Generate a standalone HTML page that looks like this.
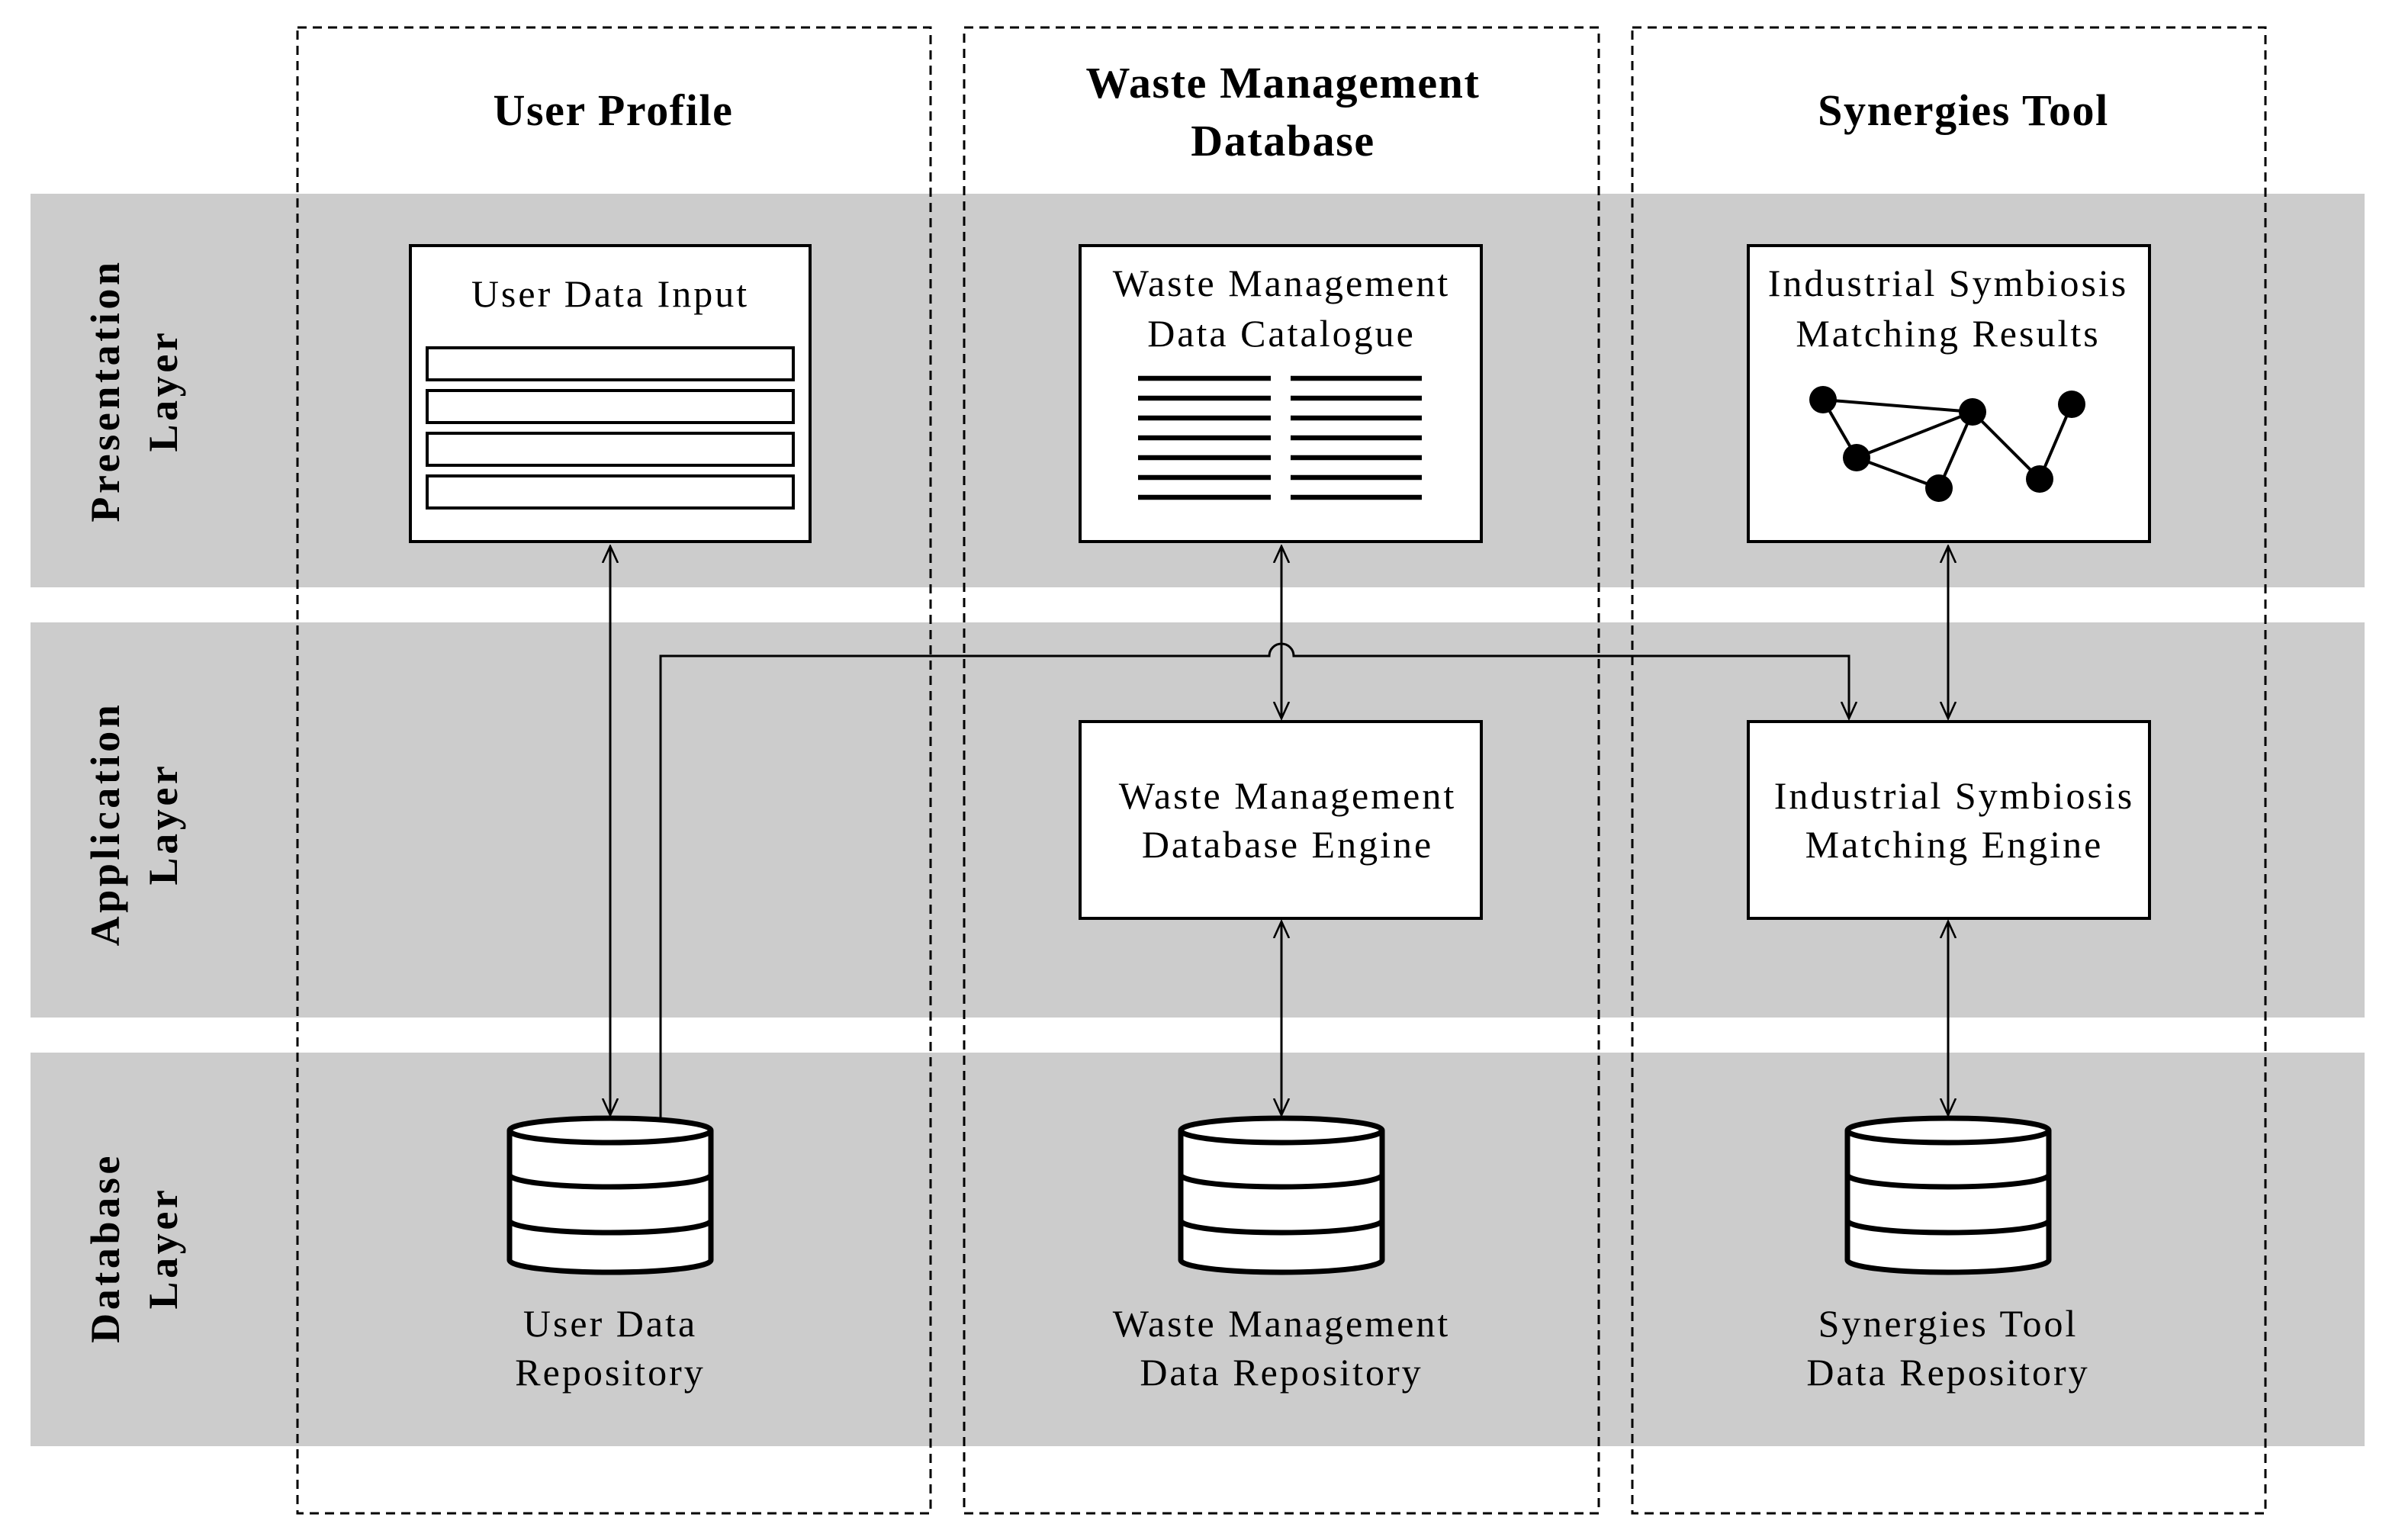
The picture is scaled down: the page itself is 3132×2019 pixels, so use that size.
<!DOCTYPE html>
<html><head><meta charset="utf-8"><style>html,body{margin:0;padding:0;background:#fff}svg{display:block}</style></head>
<body>
<svg width="3132" height="2019" viewBox="0 0 1566 1009.5" xmlns="http://www.w3.org/2000/svg" font-family="'Liberation Serif', serif">
<defs>
<marker id="a" viewBox="0 0 12 12" refX="11" refY="6" markerWidth="12" markerHeight="12" markerUnits="userSpaceOnUse" orient="auto-start-reverse">
<path d="M0,1 L11,6 L0,11" fill="none" stroke="#000" stroke-width="1.3"/>
</marker>
</defs>
<rect x="0" y="0" width="1566" height="1010" fill="#fff"/>
<rect x="20" y="127" width="1530" height="258" fill="#cccccc"/>
<rect x="20" y="408" width="1530" height="259" fill="#cccccc"/>
<rect x="20" y="690" width="1530" height="258" fill="#cccccc"/>
<g fill="none" stroke="#000" stroke-width="1.5" stroke-dasharray="6,4">
<rect x="195" y="18" width="415" height="974"/>
<rect x="632" y="18" width="416" height="974"/>
<rect x="1070" y="18" width="415" height="974"/>
</g>
<g font-weight="bold" font-size="29" text-anchor="middle" letter-spacing="0.8">
<text x="402" y="82">User Profile</text>
<text x="841" y="64">Waste Management</text>
<text x="841" y="102">Database</text>
<text x="1287" y="82">Synergies Tool</text>
</g>
<g font-weight="bold" font-size="27" text-anchor="middle" letter-spacing="2.3">
<text transform="translate(78,256) rotate(-90)">Presentation</text>
<text transform="translate(116,256) rotate(-90)">Layer</text>
<text transform="translate(78,540) rotate(-90)">Application</text>
<text transform="translate(116,540) rotate(-90)">Layer</text>
<text transform="translate(78,818) rotate(-90)">Database</text>
<text transform="translate(116,818) rotate(-90)">Layer</text>
</g>
<g fill="#fff" stroke="#000" stroke-width="2">
<rect x="269" y="161" width="262" height="194"/>
<rect x="708" y="161" width="263" height="194"/>
<rect x="1146" y="161" width="263" height="194"/>
<rect x="708" y="473" width="263" height="129"/>
<rect x="1146" y="473" width="263" height="129"/>
<rect x="280" y="228" width="240" height="21"/>
<rect x="280" y="256" width="240" height="21"/>
<rect x="280" y="284" width="240" height="21"/>
<rect x="280" y="312" width="240" height="21"/>
</g>
<g stroke="#000" stroke-width="3.2">
<path d="M746 248H833M846 248H932M746 261H833M846 261H932M746 274H833M846 274H932M746 287H833M846 287H932M746 300H833M846 300H932M746 313H833M846 313H932M746 326H833M846 326H932"/>
</g>
<g stroke="#000" stroke-width="2" fill="none">
<path d="M1195 262L1293 270M1195 262L1217 300M1217 300L1293 270M1217 300L1271 320M1271 320L1293 270M1293 270L1337 314M1337 314L1358 265"/>
</g>
<g fill="#000">
<circle cx="1195" cy="262" r="9"/><circle cx="1293" cy="270" r="9"/><circle cx="1358" cy="265" r="9"/>
<circle cx="1217" cy="300" r="9"/><circle cx="1271" cy="320" r="9"/><circle cx="1337" cy="314" r="9"/>
</g>
<g font-size="25" text-anchor="middle" letter-spacing="1.5">
<text x="400" y="201">User Data Input</text>
<text x="840" y="194">Waste Management</text>
<text x="840" y="227">Data Catalogue</text>
<text x="1277" y="194">Industrial Symbiosis</text>
<text x="1277" y="227">Matching Results</text>
<text x="844" y="530">Waste Management</text>
<text x="844" y="562">Database Engine</text>
<text x="1281" y="530">Industrial Symbiosis</text>
<text x="1281" y="562">Matching Engine</text>
<text x="400" y="876">User Data</text>
<text x="400" y="908">Repository</text>
<text x="840" y="876">Waste Management</text>
<text x="840" y="908">Data Repository</text>
<text x="1277" y="876">Synergies Tool</text>
<text x="1277" y="908">Data Repository</text>
</g>
<g stroke="#000" stroke-width="1.5" fill="none">
<line x1="400" y1="358" x2="400" y2="731" marker-start="url(#a)" marker-end="url(#a)"/>
<line x1="840" y1="358" x2="840" y2="471" marker-start="url(#a)" marker-end="url(#a)"/>
<line x1="1277" y1="358" x2="1277" y2="471" marker-start="url(#a)" marker-end="url(#a)"/>
<line x1="840" y1="604" x2="840" y2="731" marker-start="url(#a)" marker-end="url(#a)"/>
<line x1="1277" y1="604" x2="1277" y2="731" marker-start="url(#a)" marker-end="url(#a)"/>
<path d="M433 733V430H832A8 8 0 0 1 848 430H1212V471" marker-end="url(#a)"/>
</g>
<g id="cyl" fill="#fff" stroke="#000" stroke-width="3.5">
<path d="M334 741V826A66 8 0 0 0 466 826V741"/>
<ellipse cx="400" cy="741" rx="66" ry="8"/>
<path d="M334 770A66 8 0 0 0 466 770M334 800A66 8 0 0 0 466 800" fill="none"/>
</g>
<use href="#cyl" x="440"/>
<use href="#cyl" x="877"/>
</svg>
</body></html>
